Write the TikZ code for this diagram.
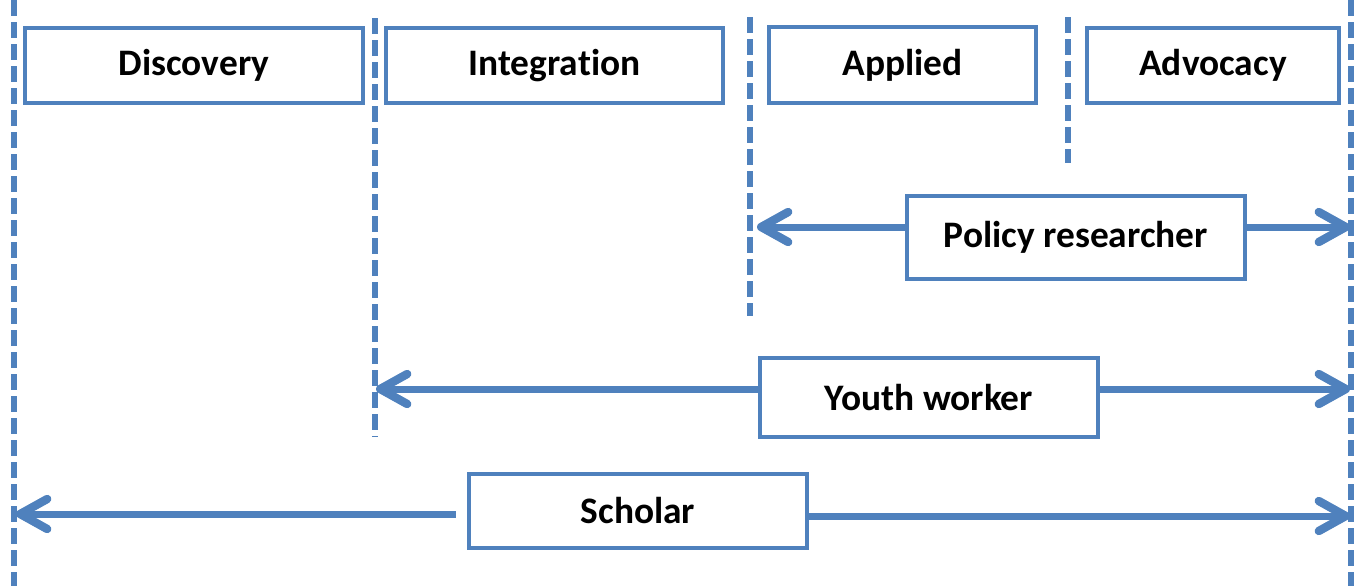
\documentclass[tikz,border=0pt]{standalone}
\usepackage{fontspec}
\setmainfont[Ligatures={NoCommon}]{Carlito}
\usetikzlibrary{arrows.meta}
\definecolor{obl}{HTML}{4F81BD}
\tikzset{
  box/.style={draw=obl, line width=2.3pt, fill=white, inner sep=0pt, font=\bfseries\fontsize{18.7}{22}\selectfont, text=black},
  divider/.style={draw=obl, line width=2.7pt, dash pattern=on 8pt off 3pt},
  span/.style={draw=obl, line width=3.5pt, -{Straight Barb[length=13.5pt,width=15pt,round,line width=4.2pt]}}
}
\begin{document}
\begin{tikzpicture}[x=0.5pt,y=-0.5pt]
\useasboundingbox (0,0) rectangle (1362,586);
% dividers
\coordinate (d1t) at (14,0);    \coordinate (d1b) at (14,586);
\coordinate (d2t) at (375,18);  \coordinate (d2b) at (375,437);
\coordinate (d3t) at (750,17);  \coordinate (d3b) at (750,316);
\coordinate (d4t) at (1068,17); \coordinate (d4b) at (1068,163);
\coordinate (d5t) at (1351,0);  \coordinate (d5b) at (1351,586);
\foreach \a/\b in {d1t/d1b,d2t/d2b,d3t/d3b,d4t/d4b,d5t/d5b}
  \draw[divider] (\a) -- (\b);
% header boxes
\node[box, minimum width=169pt, minimum height=37.5pt] (disc) at (194,65.5) {Discovery};
\node[box, minimum width=168.5pt, minimum height=37.5pt] (integ) at (554.5,65.5) {Integration};
\node[box, minimum width=133.5pt, minimum height=38pt] (appl) at (902.5,65) {\raisebox{1.5pt}{Applied}};
\node[box, minimum width=126pt, minimum height=37.5pt] (advo) at (1213,65.5) {Advocacy};
% role boxes
\node[box, minimum width=169pt, minimum height=41.5pt] (policy) at (1076,237.5) {Policy researcher};
\node[box, minimum width=169pt, minimum height=39.5pt] (youth) at (929,397.5) {Youth worker};
\node[box, minimum width=169pt, minimum height=37pt] (scholar) at (638,511) {Scholar};
% arrow end points
\coordinate (pL) at (757,227);  \coordinate (pR) at (1350,227);
\coordinate (yL) at (376,389);  \coordinate (yR) at (1350,389);
\coordinate (sL) at (16,514);   \coordinate (sR) at (1350,516);
\draw[span] (policy.west |- pL) -- (pL);
\draw[span] (policy.east |- pR) -- (pR);
\draw[span] (youth.west |- yL) -- (yL);
\draw[span] (youth.east |- yR) -- (yR);
\draw[span, shorten <=5.5pt] (scholar.west |- sL) -- (sL);
\draw[span] (scholar.east |- sR) -- (sR);
\end{tikzpicture}
\end{document}
